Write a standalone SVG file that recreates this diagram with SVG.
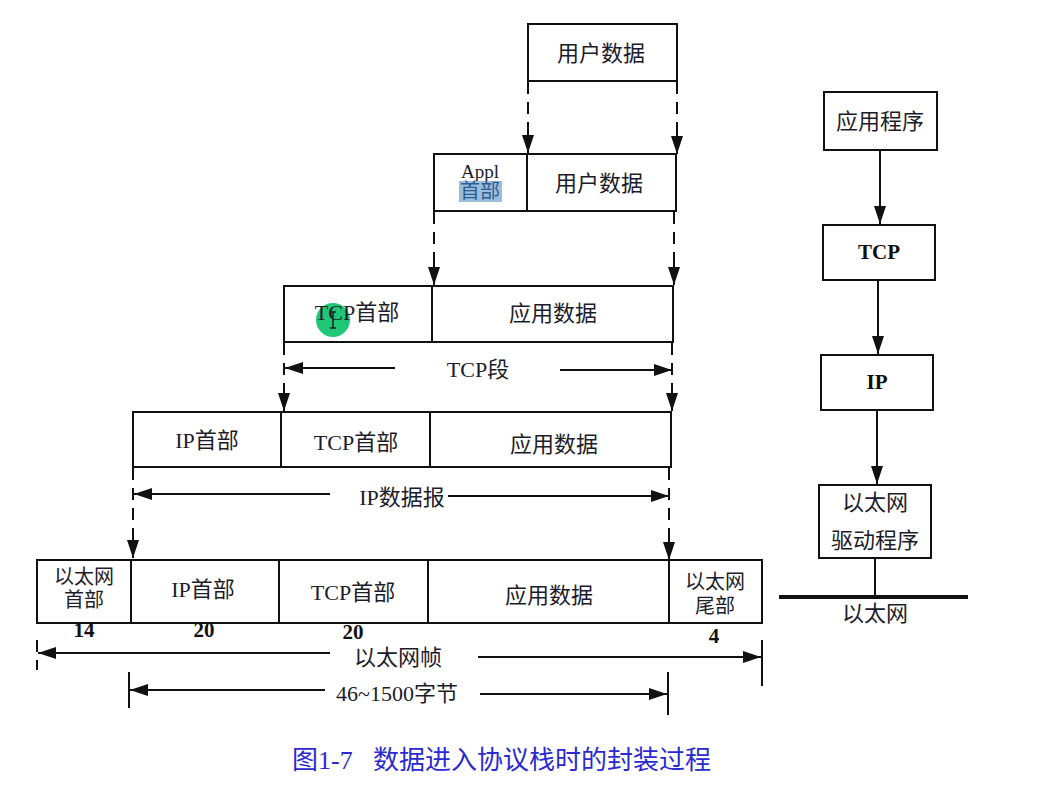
<svg xmlns="http://www.w3.org/2000/svg" width="1051" height="787" viewBox="0 0 1051 787">
<style>
.box{fill:#fff;stroke:#111;stroke-width:2}
.t{font-family:"Liberation Serif","Noto Sans CJK SC",serif;font-size:22px;fill:#1c1c2a;text-anchor:middle}
.s{font-size:20px}
.b{font-family:"Liberation Serif","Noto Sans CJK SC",serif;font-size:21px;font-weight:bold;fill:#111;text-anchor:middle}
.dash{stroke:#111;stroke-width:2;stroke-dasharray:12 8;fill:none}
.ln{stroke:#111;stroke-width:2;fill:none}
.cap{font-family:"Liberation Serif","Noto Sans CJK SC",serif;font-size:26px;fill:#2a2ad0}
</style>
<defs>
<marker id="ahL" viewBox="0 0 18 12" refX="18" refY="6" markerWidth="18" markerHeight="12" markerUnits="userSpaceOnUse" orient="auto">
<path d="M0,0 L18,6 L0,12 Z" fill="#111"/>
</marker>
</defs>
<rect width="1051" height="787" fill="#fff"/>

<g id="connectors">
<path class="dash" d="M528,82 V133"/><path class="ln" d="M528,130 V153" marker-end="url(#ahL)"/>
<path class="dash" d="M677,82 V133"/><path class="ln" d="M677,130 V154" marker-end="url(#ahL)"/>
<path class="dash" d="M434,212 V262"/><path class="ln" d="M434,258 V285" marker-end="url(#ahL)"/>
<path class="dash" d="M674,212 V262"/><path class="ln" d="M674,258 V285" marker-end="url(#ahL)"/>
<path class="dash" d="M284,343 V392"/><path class="ln" d="M284,388 V411" marker-end="url(#ahL)"/>
<path class="dash" d="M672,343 V392"/><path class="ln" d="M672,388 V411" marker-end="url(#ahL)"/>
<path class="ln" d="M395,368 H285" marker-end="url(#ahL)"/>
<path class="ln" d="M560,370 H672" marker-end="url(#ahL)"/>
<path class="dash" d="M133,468 V540"/><path class="ln" d="M133,535 V558" marker-end="url(#ahL)"/>
<path class="dash" d="M669,468 V540"/><path class="ln" d="M669,535 V560" marker-end="url(#ahL)"/>
<path class="ln" d="M330,494 H134" marker-end="url(#ahL)"/>
<path class="ln" d="M448,496 H669" marker-end="url(#ahL)"/>
<path class="dash" d="M37,640 V670"/>
<path class="ln" d="M762,640 V686"/>
<path class="ln" d="M330,653 H38" marker-end="url(#ahL)"/>
<path class="ln" d="M478,657 H761" marker-end="url(#ahL)"/>
<path class="ln" d="M129,672 V708"/>
<path class="ln" d="M668,672 V715"/>
<path class="ln" d="M325,690 H130" marker-end="url(#ahL)"/>
<path class="ln" d="M480,694 H667" marker-end="url(#ahL)"/>
<path class="ln" d="M880,151 V224" marker-end="url(#ahL)"/>
<path class="ln" d="M878,281 V354" marker-end="url(#ahL)"/>
<path class="ln" d="M877,411 V484" marker-end="url(#ahL)"/>
<path class="ln" d="M875,559 V597"/>
<path d="M779,597 H968" stroke="#111" stroke-width="4"/>
</g>

<g id="userdata"><rect class="box" x="528" y="24" width="149" height="57"/><text class="t" x="601" y="61">用户数据</text></g>

<g id="appl">
<rect class="box" x="434" y="154" width="242" height="57"/>
<line class="ln" x1="527" y1="154" x2="527" y2="211"/>
<text class="t" x="480" y="178" style="font-size:19px">Appl</text>
<rect x="459" y="181" width="43" height="21" fill="#9dbcd9"/>
<text class="t" x="480" y="198" style="font-size:20px;fill:#2a5f95">首部</text>
<text class="t" x="599" y="191">用户数据</text>
</g>

<g id="tcpseg">
<rect class="box" x="284" y="286" width="389" height="56"/>
<line class="ln" x1="432" y1="286" x2="432" y2="342"/>
<circle cx="333" cy="320" r="17" fill="#20c777"/>
<text class="t" x="357" y="320">TCP首部</text>
<text class="t" x="553" y="321">应用数据</text>
<path d="M330,312 h6 M333,312 v16 M330,328 h6" stroke="#222" stroke-width="1.5" fill="none"/>
</g>
<text class="t" x="478" y="377">TCP段</text>

<g id="ipdgram">
<rect class="box" x="133" y="412" width="538" height="55"/>
<line class="ln" x1="281" y1="412" x2="281" y2="467"/>
<line class="ln" x1="430" y1="412" x2="430" y2="467"/>
<text class="t" x="207" y="448">IP首部</text>
<text class="t" x="356" y="450">TCP首部</text>
<text class="t" x="554" y="452">应用数据</text>
</g>
<text class="t" x="402" y="505">IP数据报</text>

<g id="ethframe">
<rect class="box" x="37" y="560" width="725" height="63"/>
<line class="ln" x1="131" y1="560" x2="131" y2="623"/>
<line class="ln" x1="279" y1="560" x2="279" y2="623"/>
<line class="ln" x1="428" y1="560" x2="428" y2="623"/>
<line class="ln" x1="669" y1="560" x2="669" y2="623"/>
<text class="t s" x="84" y="584">以太网</text>
<text class="t s" x="84" y="607">首部</text>
<text class="t" x="203" y="597">IP首部</text>
<text class="t" x="353" y="600">TCP首部</text>
<text class="t" x="549" y="603">应用数据</text>
<text class="t s" x="715" y="589">以太网</text>
<text class="t s" x="715" y="613">尾部</text>
<text class="b" x="84" y="637">14</text>
<text class="b" x="204" y="637">20</text>
<text class="b" x="353" y="639">20</text>
<text class="b" x="714" y="643">4</text>
</g>
<text class="t" x="398" y="665">以太网帧</text>
<text class="t" x="397" y="701">46~1500字节</text>

<g id="app"><rect class="box" x="824" y="92" width="113" height="58"/><text class="t" x="880" y="129">应用程序</text></g>
<g id="tcp"><rect class="box" x="823" y="225" width="112" height="55"/><text class="b" x="879" y="259">TCP</text></g>
<g id="ip"><rect class="box" x="821" y="355" width="112" height="55"/><text class="b" x="877" y="389">IP</text></g>
<g id="drv"><rect class="box" x="819" y="485" width="112" height="73"/><text class="t" x="875" y="510">以太网</text><text class="t" x="875" y="548">驱动程序</text></g>
<text class="t" x="875" y="621">以太网</text>

<text class="cap" y="769"><tspan x="292">图1-7</tspan><tspan x="373">数据进入协议栈时的封装过程</tspan></text>
</svg>
